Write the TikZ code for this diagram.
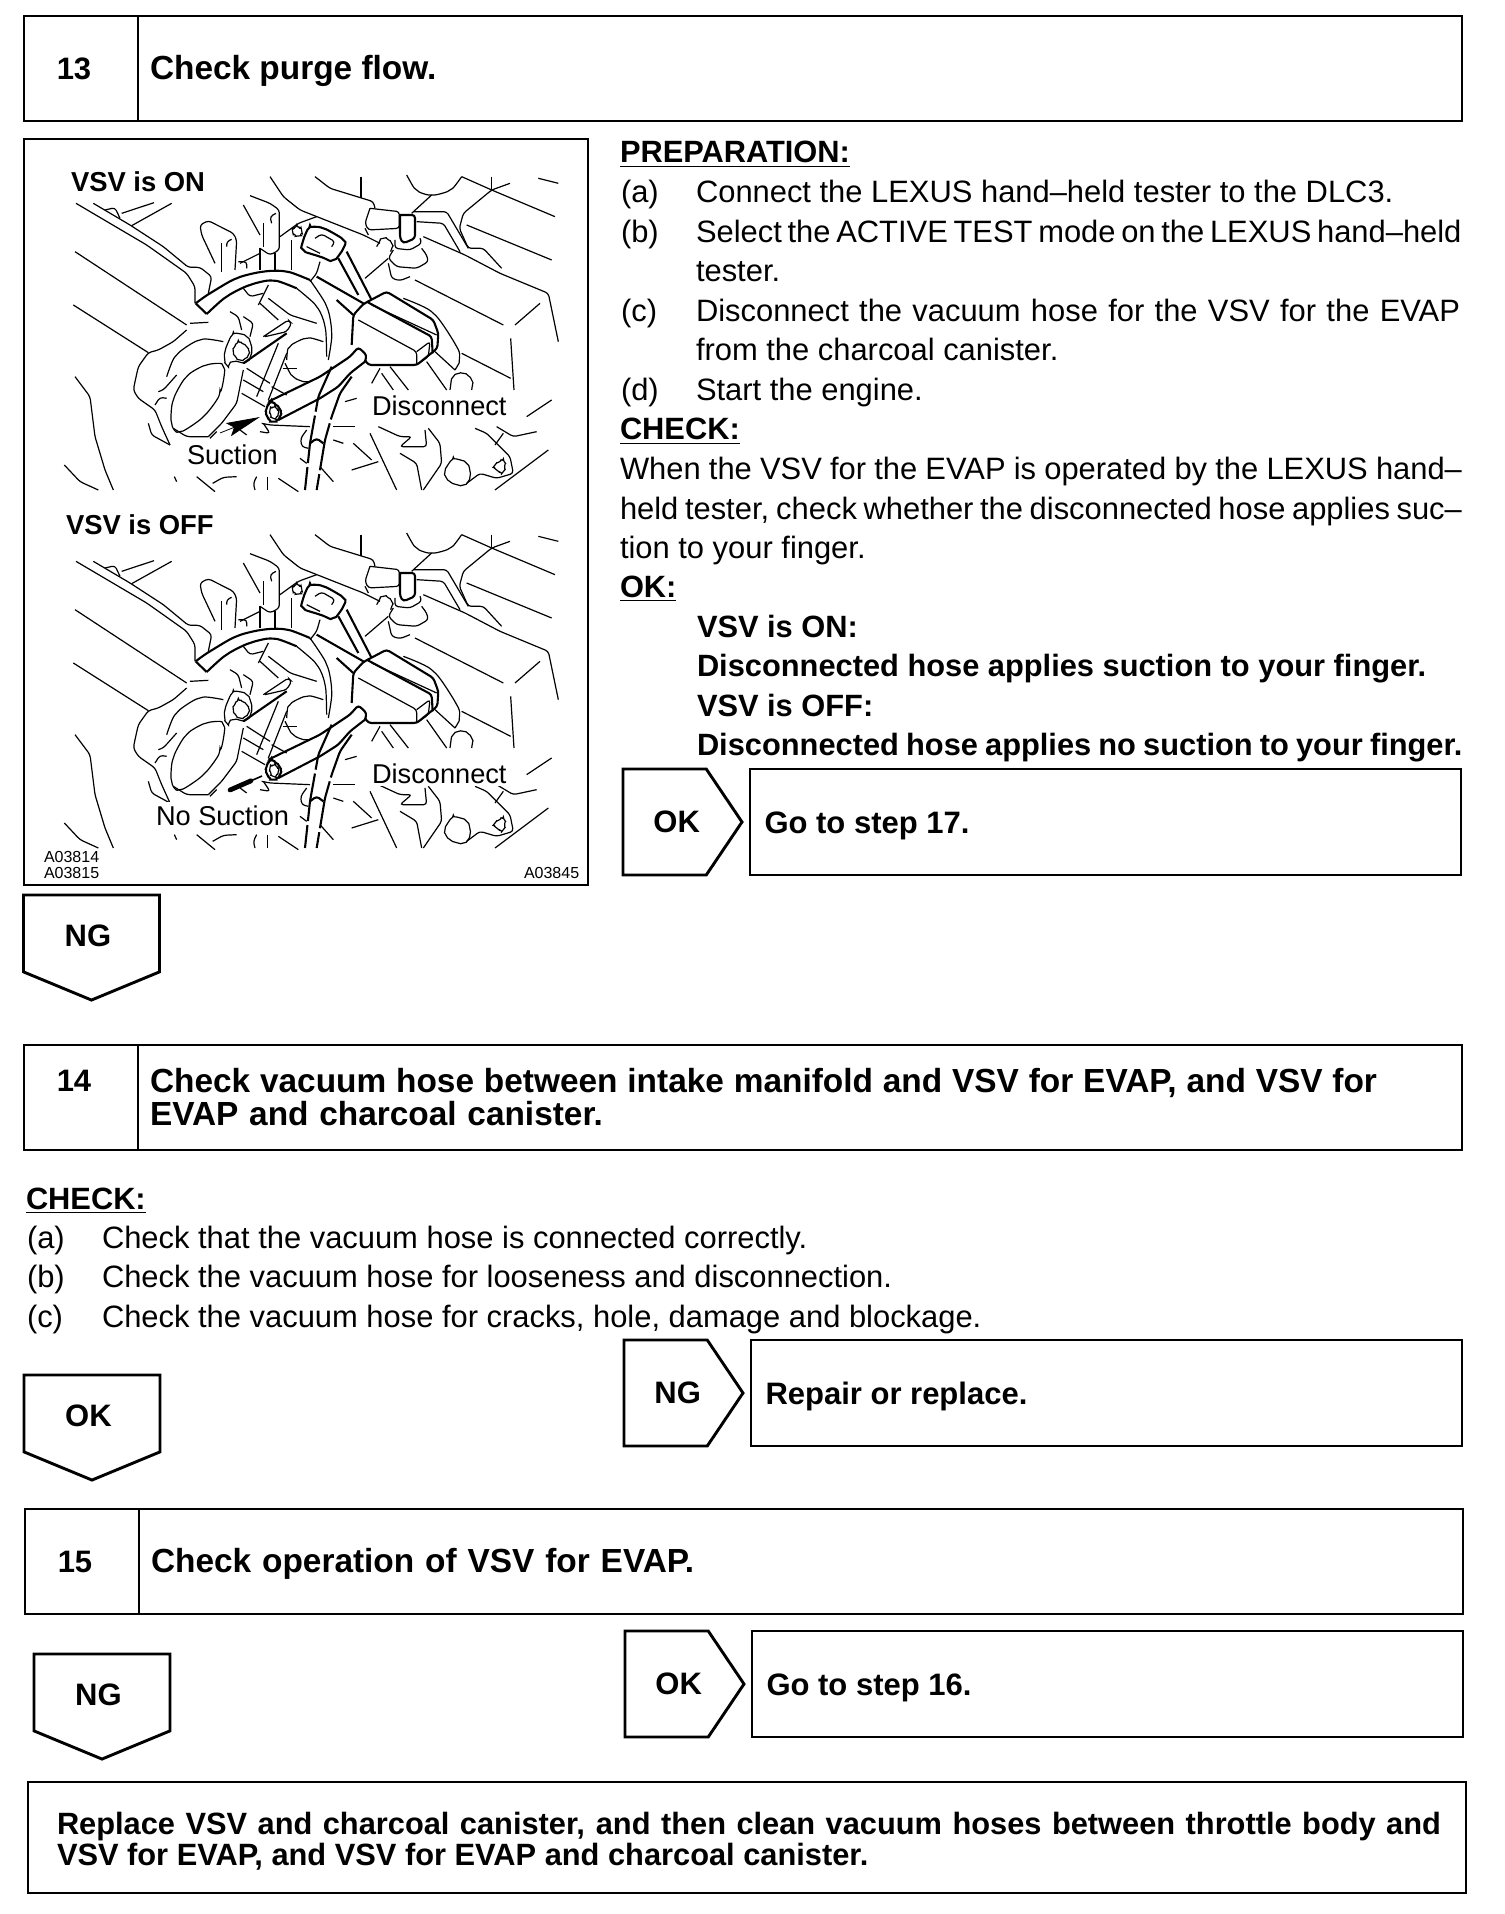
\documentclass[tikz,border=0pt]{standalone}
\usepackage{fontspec}
\setmainfont{Liberation Sans}
\usepackage{tikz}
\usetikzlibrary{shapes.symbols, positioning, arrows.meta}

% line art of the engine bay, traced at three times the picture size
\newcommand{\engineart}{%
    % manifold and background lines
    \draw[artline] (138,130) -- (350,255) -- (470,340) -- (495,380) -- (495,430);
    \draw[artline] (190,130) -- (300,195) -- (400,260) -- (475,322) -- (510,322) -- (545,350) -- (535,400);
    \draw[artline] (225,150) -- (255,143) -- (270,175);
    \draw[artline] (275,160) -- (372,128);
    \draw[artline] (305,197) -- (425,130);
    \draw[artline] (135,275) -- (470,495);
    \draw[artline] (130,435) -- (355,578);
    \draw[artline] (135,650) -- (180,710) -- (195,830) -- (225,930) -- (250,990);
    \draw[artline] (103,915) -- (150,965) -- (205,990);
    % throttle body
    \draw[artline] (470,510) -- (430,545) -- (385,570) -- (355,578) -- (325,620) -- (315,665) -- (310,690) -- (325,715) -- (375,750) -- (395,800) -- (420,855);
    \draw[artline] (355,790) -- (365,825) -- (420,855);
    \draw[artline] (375,735) -- (390,712) -- (410,715);
    \draw[artline] plot[smooth cycle] coordinates {(580,620) (570,700) (520,770) (450,815) (425,790) (430,720) (470,650) (530,615)};
    \draw[artline] (640,630) -- (620,730) -- (575,790) -- (535,830);
    \draw[artline] (430,805) -- (470,830) -- (535,830);
    \draw[artline] plot[smooth] coordinates {(410,650) (440,585) (510,540) (580,545)};
    \draw[artline] (480,490) -- (535,487);
    \draw[artline] (440,645) -- (400,690) -- (385,695);
    % bent pipe across the top
    \draw[hoseline] plot[smooth] coordinates {(497,430) (540,400) (620,355) (700,335) (770,335) (840,360)};
    \draw[hoseline] plot[smooth] coordinates {(530,462) (590,410) (660,375) (730,362) (800,385)};
    \draw[artline] plot[smooth] coordinates {(840,360) (890,440) (905,520) (895,600)};
    \draw[artline] plot[smooth] coordinates {(800,385) (860,440) (885,500) (890,590)};
    \draw[hoseline] (497,430) -- (530,462);
    % brackets above the pipe
    \draw[artline] (555,310) -- (515,225) -- (510,195) -- (535,182) -- (610,220) -- (620,240) -- (615,330);
    \draw[artline] (590,260) -- (590,245) -- (605,238);
    \draw[artline] (575,250) -- (575,335);
    \draw[artline] (625,305) -- (650,305) -- (650,325);
    \draw[artline] (640,135) -- (690,225);
    \draw[artline] (660,107) -- (720,130) -- (748,150) -- (748,270) -- (720,285) -- (690,265);
    \draw[artline] (725,190) -- (720,170) -- (738,160);
    \draw[artline] (700,190) -- (700,260);
    \draw[artline] (690,265) -- (690,330);
    \draw[artline] (735,280) -- (735,330);
    \draw[artline] (630,310) -- (690,280);
    \draw[artline] (720,50) -- (760,110) -- (810,150) -- (1000,225) -- (1050,250);
    \draw[artline] (750,230) -- (805,190) -- (860,170);
    \draw[artline] plot[smooth cycle] coordinates {(788,215) (800,203) (815,212) (805,228)};
    \draw[artline] (785,240) -- (785,330);
    % clip, ball and grommet
    \draw[hoseline] (640,610) -- (770,520);
    \draw[artline] (700,530) -- (775,480) -- (785,490) -- (770,515) -- (705,530);
    \draw[artline] (745,550) -- (680,710);
    \draw[artline] (770,580) -- (715,720);
    \draw[artline] plot[smooth] coordinates {(770,600) (780,560) (830,535) (880,545)};
    \draw[artline] plot[smooth] coordinates {(765,610) (790,650) (830,665) (870,650)};
    \draw[artline] (760,625) -- (800,625);
    \draw[artline] plot[smooth cycle] coordinates {(585,575) (610,525) (650,530) (665,570) (650,605) (610,605) (590,615)};
    \draw[artline] plot[smooth cycle] coordinates {(610,575) (625,550) (650,560) (655,585) (630,600)};
    \draw[artline] (600,455) -- (625,470) -- (635,510);
    \draw[artline] (640,470) -- (670,490) -- (660,530);
    \draw[artline] (690,430) -- (745,480);
    \draw[artline] (715,415) -- (780,465) -- (860,490);
    \draw[artline] (685,435) -- (715,375);
    \draw[artline] (640,385) -- (660,410) -- (700,400);
    \draw[artline] (635,700) -- (705,740);
    \draw[artline] (640,660) -- (700,695);
    \draw[artline] (650,625) -- (720,670);
    \draw[artline] (725,680) -- (770,705);
    % hose with the open end
    \draw[hoseline] (715,725) -- (870,650) -- (960,590) -- (985,562) -- (1010,585) -- (1005,605);
    \draw[hoseline] (745,780) -- (870,715) -- (925,680) -- (960,640) -- (1005,605);
    \draw[hoseline] plot[smooth cycle] coordinates {(710,745) (725,730) (748,745) (750,770) (730,785) (712,770)};
    \draw[artline] plot[smooth cycle] coordinates {(720,750) (735,745) (745,760) (730,775)};
    % long hose going down
    \draw[hoseline, dash pattern=on 24pt off 2pt] (905,620) -- (865,710) -- (840,850) -- (825,990);
    \draw[hoseline, dash pattern=on 24pt off 2pt] (965,650) -- (930,700) -- (905,770) -- (885,840) -- (860,990);
    \draw[hoseline] (840,850) -- (860,835) -- (880,850);
    % bottom left
    \draw[artline] (695,790) -- (720,795) -- (840,800);
    \draw[artline] (700,790) -- (720,820) -- (690,815);
    \draw[artline] (630,810) -- (650,825);
    \draw[artline] (540,835) -- (560,815);
    \draw[artline] (433,950) -- (440,965);
    \draw[artline] (500,950) -- (555,995);
    \draw[artline] (548,970) -- (580,952) -- (620,950);
    \draw[artline] (680,950) -- (670,970) -- (675,990);
    \draw[artline] (712,950) -- (712,990);
    \draw[artline] (745,955) -- (805,995);
    \draw[artline] (810,895) -- (830,910);
    \draw[artline] (830,810) -- (812,835) -- (815,860) -- (835,865);
    % right part of the art
    \begin{scope}[shift={(810,0)}]
        % connector and its pipe
        \draw[hoseline] plot[smooth cycle] coordinates {(10,240) (30,205) (70,205) (130,240) (130,265) (100,300) (60,290) (10,270)};
        \draw[artline] (45,235) -- (65,222) -- (105,245) -- (95,260);
        \draw[artline] (20,260) -- (60,280);
        \draw[artline] (60,305) -- (50,340) -- (30,365);
        \draw[hoseline] (115,295) -- (175,405);
        \draw[hoseline] (140,275) -- (215,420);
        \draw[hoseline] (50,350) -- (190,430);
        \draw[hoseline] (110,420) -- (160,465);
        % VSV block
        \draw[hoseline] (155,555) -- (160,465) -- (190,432) -- (260,395) -- (400,480) -- (415,520) -- (412,565) -- (350,615) -- (205,615) -- (195,600);
        \draw[hoseline] (200,425) -- (395,530) -- (398,580);
        \draw[artline] (215,435) -- (410,525);
        \draw[artline] (175,480) -- (350,575) -- (350,615);
        \draw[artline] (350,575) -- (390,545) -- (385,590) -- (350,615);
        \draw[artline] plot[smooth] coordinates {(310,415) (400,460) (470,560) (478,600) (465,630)};
        \draw[artline] (405,575) -- (465,630);
        % below the block
        \draw[artline] (380,605) -- (440,690);
        \draw[artline] (270,620) -- (325,690);
        \draw[artline] (240,625) -- (215,670);
        \draw[artline] (245,640) -- (280,690);
        \draw[artline] plot[smooth] coordinates {(450,690) (460,650) (490,640) (515,660) (515,690)};
        % top right
        \draw[artline] (45,50) -- (90,85) -- (220,125) -- (225,145);
        \draw[artline] (183,50) -- (183,115);
        \draw[artline] (210,145) -- (298,155) -- (298,205) -- (205,210) -- (195,190) -- (210,145);
        \draw[artline] (195,205) -- (205,225);
        \draw[hoseline] (300,165) -- (345,165) -- (345,235) -- (310,250) -- (300,235) -- (300,165);
        \draw[artline] (285,240) -- (285,265) -- (330,270) -- (365,250) -- (360,235);
        \draw[artline] (280,270) -- (265,295) -- (290,320) -- (350,325) -- (385,305) -- (380,285) -- (365,265);
        \draw[artline] (265,310) -- (275,355) -- (300,362) -- (330,350);
        \draw[artline] plot[smooth] coordinates {(230,260) (250,235) (275,250) (272,275)};
        \draw[artline] (195,355) -- (265,295);
        \draw[artline] plot[smooth] coordinates {(320,45) (350,90) (395,105) (450,90) (485,50)};
        \draw[artline] (485,50) -- (575,90) -- (765,170);
        \draw[artline] (575,50) -- (575,90);
        \draw[artline] (630,70) -- (575,90) -- (490,160) -- (478,205) -- (505,265) -- (550,265) -- (605,325);
        \draw[artline] (335,160) -- (395,105);
        \draw[artline] (340,155) -- (440,155) -- (505,265);
        \draw[artline] (350,185) -- (430,190) -- (480,275);
        \draw[artline] (715,55) -- (775,70);
        \draw[artline] (500,195) -- (755,300);
        \draw[artline] (485,580) -- (632,655);
        \draw[artline] (632,535) -- (642,690);
        \draw[artline] (370,230) -- (495,285) -- (600,340) -- (745,400) -- (775,545);
        \draw[artline] (345,360) -- (610,495);
        \draw[artline] (645,495) -- (720,430);
        % bottom right
        \draw[artline] (210,820) -- (290,990);
        \draw[artline] (160,850) -- (215,900);
        \draw[artline] (155,930) -- (235,905);
        \draw[artline] (235,800) -- (300,830) -- (335,830) -- (300,860) -- (380,860) -- (375,810);
        \draw[artline] (300,880) -- (350,910) -- (365,990);
        \draw[artline] (385,805) -- (420,850) -- (425,910) -- (370,990);
        \draw[artline] plot[smooth cycle] coordinates {(435,935) (460,900) (500,910) (510,950) (490,975) (450,965)};
        \draw[artline] (500,970) -- (540,940) -- (590,955) -- (640,940) -- (630,890) -- (560,820) -- (525,805);
        \draw[artline] plot[smooth cycle] coordinates {(585,915) (610,905) (610,935) (590,930)};
        \draw[artline] (585,990) -- (745,870);
        \draw[artline] (590,800) -- (640,830) -- (710,815);
        \draw[artline] (610,820) -- (585,855);
        \draw[artline] (680,770) -- (755,720);
        \draw[artline] (135,725) -- (170,715);
        \draw[artline] (100,800) -- (165,800);
        \draw[artline] (100,840) -- (130,850);
        \draw[artline] (60,920) -- (100,965);
    \end{scope}
}

\begin{document}
\begin{tikzpicture}[
        x=0.5pt, y=-0.5pt,
        >=Stealth,
        % Define node styles
        every node/.style={inner sep=0pt, outer sep=0pt},
        artline/.style={line width=0.6pt, rounded corners=1.5pt},
        hoseline/.style={line width=1.05pt, rounded corners=1.5pt},
        framed/.style={draw, line width=1.45pt},
        plainspace/.style={execute at begin node={\spaceskip=0pt\relax}},
        numcell/.style={framed, anchor=north west, minimum width=57pt, minimum height=52.5pt, execute at end node=\hspace*{7pt}, font=\bfseries\fontsize{15.5}{18}\selectfont},
        titlecell/.style={framed, plainspace, minimum width=661.5pt, minimum height=52.5pt, text width=650pt, inner xsep=6pt, align=left, font=\bfseries\fontsize{16.7}{16.5}\selectfont},
        oneline/.style={text height=14.4pt, text depth=3.5pt},
        gotag/.style={framed, signal, signal to=east, signal pointer angle=112, minimum width=59.5pt, minimum height=53pt, execute at begin node=\hspace*{12pt}, font=\bfseries\fontsize{15.5}{18}\selectfont},
        downtag/.style={framed, signal, signal to=south, signal pointer angle=135, minimum width=68pt, minimum height=44pt, text height=13.6pt, execute at end node=\hspace*{3.6pt}, font=\bfseries\fontsize{15.5}{18}\selectfont},
        resultcell/.style={framed, plainspace, minimum width=355.5pt, minimum height=53pt, text width=341pt, inner xsep=7.2pt, text height=15pt, text depth=3.4pt, align=left, font=\bfseries\fontsize{15.5}{18}\selectfont},
        bodytxt/.style={anchor=base west, font=\fontsize{15.45}{18}\selectfont},
        boldtxt/.style={anchor=base west, font=\bfseries\fontsize{15.4}{18}\selectfont},
        picmark/.style={anchor=base west, font=\bfseries\fontsize{13.7}{16}\selectfont},
        piclabel/.style={anchor=base west, fill=white, inner xsep=1.5pt, inner ysep=1.5pt, font=\fontsize{13.6}{16}\selectfont},
        picnum/.style={anchor=base west, font=\fontsize{8}{9}\selectfont},
        nextline/.style={yshift=-19.75pt},
        itemtxt/.style={xshift=37.5pt}
    ]
    \useasboundingbox (0,0) rectangle (1504,1914);

    % --- Step 13 ---
    \node[numcell] (num13) at (24,16) {13};
    \node[titlecell, oneline, right=0pt of num13] (title13) {Check purge flow.};

    % Picture frame and the two drawings
    \node[framed, anchor=north west, minimum width=282pt, minimum height=373pt] (frame13) at (24,139) {};
    \begin{scope}[shift={(30,160)}, scale=1/3]
        \engineart
    \end{scope}
    \begin{scope}[shift={(30,518)}, scale=1/3]
        \engineart
    \end{scope}

    % Picture labels
    \node[picmark] (vsvOn) at (71,192) {VSV is ON};
    \node[picmark] (vsvOff) at (66,535) {VSV is OFF};
    \node[piclabel] (discOn) at (369,416) {Disconnect};
    \node[piclabel] (discOff) at (369,783) {Disconnect};
    \node[piclabel] (suction) at (184,465) {Suction};
    \node[piclabel] (noSuction) at (153,825) {No Suction};
    \node[picnum] (markA) at (44,862) {A03814};
    \node[picnum] (markB) at (44,878) {A03815};
    \node[picnum] (markC) at (524,878) {A03845};

    % Suction pointers
    \coordinate (sucTail) at (220,433);
    \coordinate (sucTip) at (260,417);
    \draw[line width=0.4pt, -{Stealth[length=17pt, width=7pt, inset=3pt]}] (sucTail) -- (sucTip);
    \coordinate (noSucTail) at (230,790);
    \coordinate (noSucTip) at (262,776);
    \draw[line width=2.4pt, line cap=round, shorten >=6pt] (noSucTail) -- (noSucTip);
    \draw[line width=0.8pt] (noSucTail) -- (noSucTip);

    % Preparation
    \node[boldtxt] (prepHead) at (620,163) {\underline{PREPARATION:}};
    \node[bodytxt] (prepA) at (621,203) {(a)};
    \node[bodytxt, itemtxt] (prepAt) at (prepA.base west) {Connect the LEXUS hand--held tester to the DLC3.};
    \node[bodytxt, nextline] (prepB) at (prepA.base west) {(b)};
    \node[bodytxt, itemtxt] (prepBt) at (prepB.base west) {\makebox[382pt][s]{Select the ACTIVE TEST mode on the LEXUS hand--held}};
    \node[bodytxt, nextline] (prepBu) at (prepBt.base west) {tester.};
    \node[bodytxt, yshift=-39.5pt] (prepC) at (prepB.base west) {(c)};
    \node[bodytxt, itemtxt] (prepCt) at (prepC.base west) {\makebox[382pt][s]{Disconnect the vacuum hose for the VSV for the EVAP}};
    \node[bodytxt, nextline] (prepCu) at (prepCt.base west) {from the charcoal canister.};
    \node[bodytxt, yshift=-39.5pt] (prepD) at (prepC.base west) {(d)};
    \node[bodytxt, itemtxt] (prepDt) at (prepD.base west) {Start the engine.};

    % Check
    \node[boldtxt] (checkHead) at (620,440) {\underline{CHECK:}};
    \node[bodytxt] (checkL) at (620,480) {\makebox[421pt][s]{When the VSV for the EVAP is operated by the LEXUS hand--}};
    \node[bodytxt, nextline] (checkM) at (checkL.base west) {\makebox[421pt][s]{held tester, check whether the disconnected hose applies suc--}};
    \node[bodytxt, nextline] (checkN) at (checkM.base west) {tion to your finger.};

    % OK conditions
    \node[boldtxt] (okHead) at (620,597) {\underline{OK:}};
    \node[boldtxt] (okOn) at (697,637) {VSV is ON:};
    \node[boldtxt, nextline] (okOnT) at (okOn.base west) {Disconnected hose applies suction to your finger.};
    \node[boldtxt, nextline] (okOff) at (okOnT.base west) {VSV is OFF:};
    \node[boldtxt, nextline] (okOffT) at (okOff.base west) {\makebox[382.7pt][s]{Disconnected hose applies no suction to your finger.}};

    % Step 13 results
    \node[gotag, anchor=west] (tagOk13) at (623,822) {OK};
    \node[resultcell, anchor=west] (goto17) at (750,822) {Go to step 17.};
    \node[downtag, anchor=north] (tagNg13) at (91.5,895) {NG};

    % --- Step 14 ---
    \node[numcell, text depth=17pt] (num14) at (24,1045) {14};
    \node[titlecell, right=0pt of num14] (title14) {\makebox[613.5pt][s]{Check vacuum hose between intake manifold and VSV for EVAP, and VSV for}\\\makebox[226.5pt][s]{EVAP and charcoal canister.}};

    \node[boldtxt] (check14) at (26,1209) {\underline{CHECK:}};
    \node[bodytxt] (itemA) at (27,1248) {(a)};
    \node[bodytxt, itemtxt] (itemAt) at (itemA.base west) {Check that the vacuum hose is connected correctly.};
    \node[bodytxt, nextline] (itemB) at (itemA.base west) {(b)};
    \node[bodytxt, itemtxt] (itemBt) at (itemB.base west) {Check the vacuum hose for looseness and disconnection.};
    \node[bodytxt, nextline] (itemC) at (itemB.base west) {(c)};
    \node[bodytxt, itemtxt] (itemCt) at (itemC.base west) {Check the vacuum hose for cracks, hole, damage and blockage.};

    \node[downtag, anchor=north] (tagOk14) at (92,1375) {OK};
    \node[gotag, anchor=west] (tagNg14) at (624,1393) {NG};
    \node[resultcell, anchor=west] (repair) at (751,1393) {Repair or replace.};

    % --- Step 15 ---
    \node[numcell] (num15) at (25,1509) {15};
    \node[titlecell, oneline, right=0pt of num15] (title15) {\makebox[271.6pt][s]{Check operation of VSV for EVAP.}};

    \node[gotag, anchor=west] (tagOk15) at (625,1684) {OK};
    \node[resultcell, anchor=west] (goto16) at (752,1684) {Go to step 16.};
    \node[downtag, anchor=north] (tagNg15) at (102,1654) {NG};

    % Final repair note
    \node[framed, plainspace, anchor=north west, minimum width=719pt, minimum height=55.5pt, text width=690pt, text height=15pt, align=left, font=\bfseries\fontsize{15.4}{15.5}\selectfont] (replaceBox) at (28,1782) {\makebox[692pt][s]{Replace VSV and charcoal canister, and then clean vacuum hoses between throttle body and}\\VSV for EVAP, and VSV for EVAP and charcoal canister.};
\end{tikzpicture}
\end{document}
